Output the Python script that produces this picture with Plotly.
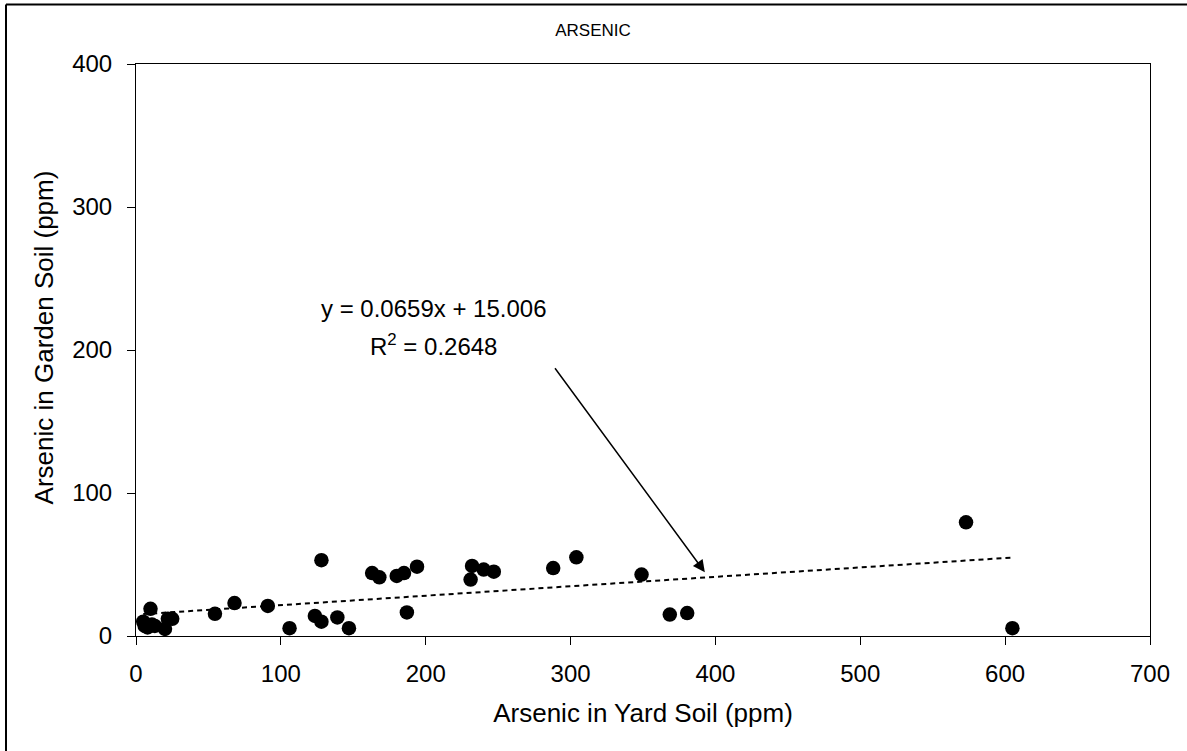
import plotly.graph_objects as go
import numpy as np

# Data
yard_soil = [5, 6, 8, 10, 11, 13, 20, 22, 25,
             54.5, 68, 91, 106, 123.5, 128, 128, 139, 147,
             163, 168, 180, 185, 187, 194, 231, 232, 240, 247,
             288, 304, 349, 368.5, 380.5, 573, 605]
garden_soil = [10, 7, 6, 19, 8, 7, 5, 12, 12,
               15.5, 23, 21, 5.5, 14, 53, 10, 13, 5.5,
               44, 41, 42, 44, 16.5, 48.5, 39.5, 49, 46.5, 45,
               47.5, 55, 43, 15, 16, 79.5, 5.5]

slope = 0.0659
intercept = 15.006
r_squared = 0.2648

x_ticks = [0, 100, 200, 300, 400, 500, 600, 700]
y_ticks = [0, 100, 200, 300, 400]

FONT = "Liberation Sans, Arial, sans-serif"

fig = go.Figure()

# trend line over the data range
tx = np.array([min(yard_soil), max(yard_soil)])
ty = slope * tx + intercept
fig.add_trace(go.Scatter(x=tx, y=ty, mode="lines",
                         line=dict(color="black", width=2, dash="5px,4px"),
                         hoverinfo="skip", showlegend=False))

fig.add_trace(go.Scatter(x=yard_soil, y=garden_soil, mode="markers",
                         marker=dict(color="black", size=14.5),
                         showlegend=False))

fig.update_layout(
    width=1187, height=751,
    margin=dict(l=136, r=37, t=64, b=115),
    paper_bgcolor="white", plot_bgcolor="white",
    font=dict(family=FONT, color="black", size=24),
    title=dict(text="ARSENIC", x=0.4996, xanchor="center", y=1 - 30 / 751,
               yanchor="middle", font=dict(size=17, family=FONT, color="black")),
)

fig.update_xaxes(range=[0, 700], tickvals=x_ticks, showgrid=False, zeroline=False,
                 showline=True, linecolor="black", linewidth=1, mirror=True,
                 ticks="outside", ticklen=8, tickcolor="black",
                 tickfont=dict(size=24), ticklabelstandoff=8,
                 title=dict(text="Arsenic in Yard Soil (ppm)", font=dict(size=26), standoff=18))
fig.update_yaxes(range=[0, 400], tickvals=y_ticks, showgrid=False, zeroline=False,
                 showline=True, linecolor="black", linewidth=1, mirror=True,
                 ticks="outside", ticklen=8, tickcolor="black",
                 tickfont=dict(size=24), ticklabelstandoff=10)

# y-axis title (placed slightly above centre, as in the reference)
fig.add_annotation(x=(44 - 136) / 1014, y=0.522, xref="paper", yref="paper",
                   text="Arsenic in Garden Soil (ppm)", textangle=-90, showarrow=False,
                   xanchor="center", yanchor="middle",
                   font=dict(size=26, family=FONT, color="black"))

# equation text and arrow
fig.add_annotation(x=205.6, y=229, xref="x", yref="y",
                   text=f"y = {slope}x + {intercept}", showarrow=False,
                   font=dict(size=24, family=FONT, color="black"))
fig.add_annotation(x=205.6, y=203.2, xref="x", yref="y",
                   text=f"R<sup>2</sup> = {r_squared}", showarrow=False,
                   font=dict(size=24, family=FONT, color="black"))
fig.add_annotation(x=392.7, y=44.6, ax=288.5, ay=188.3, xref="x", yref="y",
                   axref="x", ayref="y", text="", showarrow=True,
                   arrowhead=2, arrowsize=1.6, arrowwidth=1.5, arrowcolor="black")

# outer chart border (left and top visible)
fig.add_shape(type="line", xref="paper", yref="paper",
              x0=-130 / 1014, x1=-130 / 1014, y0=1.104, y1=-0.3,
              line=dict(color="black", width=2))
fig.add_shape(type="line", xref="paper", yref="paper",
              x0=-130 / 1014, x1=1.2, y0=1.104, y1=1.104,
              line=dict(color="black", width=2))

fig.write_html("out.html")
